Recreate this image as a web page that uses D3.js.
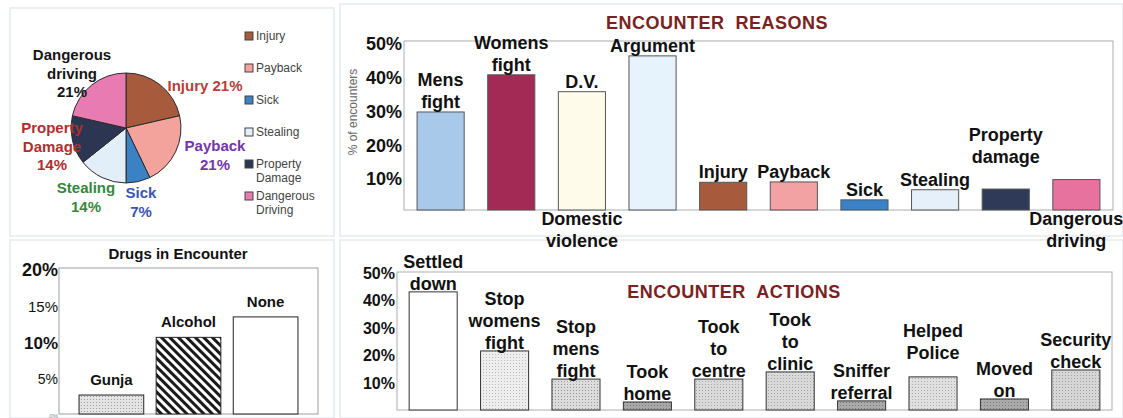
<!DOCTYPE html>
<html>
<head>
<meta charset="utf-8">
<script src="https://cdn.jsdelivr.net/npm/d3@7"></script>
<style>
  html,body{margin:0;padding:0;background:#fff;}
  svg{display:block;font-family:"Liberation Sans",Arial,sans-serif;}
</style>
</head>
<body>
<svg id="chart" width="1123" height="418"></svg>
<script>
// ---- data ----
const pieNames=['Injury','Payback','Sick','Stealing','Property Damage','Dangerous driving'];
const pieValues=[21,21,7,14,14,21];
const legendNames=['Injury','Payback','Sick','Stealing','Property\nDamage','Dangerous\nDriving'];

const reasonCategories=['Mens fight','Womens fight','D.V.','Argument','Injury','Payback','Sick','Stealing','Property damage','Dangerous driving'];
const reasonValues=[29,40,35,45.6,8.2,8.3,3,6,6.2,9];
const reasonTicks=[10,20,30,40,50];

const drugCategories=['Gunja','Alcohol','None'];
const drugValues=[2.6,10.5,13.3];
const drugTicks=[0,5,10,15,20];

const actionCategories=['Settled down','Stop womens fight','Stop mens fight','Took home','Took to centre','Took to clinic','Sniffer referral','Helped Police','Moved on','Security check'];
const actionValues=[42.8,21.4,11.2,2.9,11.2,13.8,3.3,12,4,14.5];
const actionTicks=[10,20,30,40,50];

// ---- styles ----
const PIE_COLORS=['#a85a3c','#f4a29c','#3a82c4','#e2eef8','#2c3652','#e87cb2'];
const PIE_TEXT={
  'Injury':{dx:79,dy:-43,color:'#b5403c',lines:n=>['Injury '+n+'%']},
  'Payback':{dx:89,dy:17,color:'#7436a8',lines:n=>['Payback',n+'%']},
  'Sick':{dx:15,dy:64,color:'#3c55b5',lines:n=>['Sick',n+'%']},
  'Stealing':{dx:-40,dy:59,color:'#34883e',lines:n=>['Stealing',n+'%']},
  'Property Damage':{dx:-74,dy:-1,color:'#b02e2e',lines:n=>['Property','Damage',n+'%']},
  'Dangerous driving':{dx:-54,dy:-74,color:'#151515',lines:n=>['Dangerous','driving',n+'%']}
};
const REASON_COLORS=['#a9c9ea','#a32a55','#fffbea','#e6f2fc','#a85a3c','#f2a2a2','#3a82c8','#e6f0fa','#2f3a58','#e8729e'];
const REASON_ABOVE={'Mens fight':['Mens','fight'],'Womens fight':['Womens','fight'],'D.V.':['D.V.'],'Argument':['Argument'],
  'Injury':['Injury'],'Payback':['Payback'],'Sick':['Sick'],'Stealing':['Stealing'],'Property damage':['Property','damage']};
const REASON_BELOW={'D.V.':['Domestic','violence'],'Dangerous driving':['Dangerous','driving']};
const REASON_LIFT={'Property damage':22};
const ACTION_LINES={'Settled down':['Settled','down'],'Stop womens fight':['Stop','womens','fight'],'Stop mens fight':['Stop','mens','fight'],
  'Took home':['Took','home'],'Took to centre':['Took','to','centre'],'Took to clinic':['Took','to','clinic'],'Sniffer referral':['Sniffer','referral'],
  'Helped Police':['Helped','Police'],'Moved on':['Moved','on'],'Security check':['Security','check']};
const ACTION_LIFT={'Helped Police':16};
const ACTION_FILLS=[['#ffffff',null],['#eeeeee','#b8b8b8'],['#dcdcdc','#999'],['#a9a9a9','#777'],['#dadada','#a5a5a5'],
  ['#d9d9d9','#a5a5a5'],['#aaaaaa','#777'],['#e0e0e0','#aaa'],['#aaaaaa','#777'],['#d6d6d6','#a0a0a0']];
const DRUG_TICK_SIZE={0:6,5:14,10:17,15:15,20:18};
const DRUG_TICK_WEIGHT={0:'normal',5:'normal',10:'bold',15:'normal',20:'bold'};

const svg=d3.select('#chart');
const defs=svg.append('defs');

function dotPattern(id,bg,dot){
  const p=defs.append('pattern').attr('id',id).attr('patternUnits','userSpaceOnUse').attr('width',3).attr('height',3);
  p.append('rect').attr('width',3).attr('height',3).attr('fill',bg);
  if(dot)p.append('rect').attr('width',1).attr('height',1).attr('fill',dot);
}
ACTION_FILLS.forEach((f,i)=>dotPattern('act'+i,f[0],f[1]));
dotPattern('gunja','#e4e4e4','#9a9a9a');
const stripes=defs.append('pattern').attr('id','alcohol').attr('patternUnits','userSpaceOnUse')
  .attr('width',6).attr('height',6).attr('patternTransform','rotate(-45)');
stripes.append('rect').attr('width',6).attr('height',6).attr('fill','#fff');
stripes.append('rect').attr('width',3).attr('height',6).attr('fill','#1a1a1a');

// panel outlines
const panels=[[10,8,324,228],[340,4,783,232],[10,240,324,178],[340,240,783,178]];
svg.selectAll('.panel').data(panels).enter().append('rect')
  .attr('x',d=>d[0]).attr('y',d=>d[1]).attr('width',d=>d[2]).attr('height',d=>d[3])
  .attr('fill','none').attr('stroke','#e6eaee').attr('stroke-width',1.5);

function multiline(g,lines,x,y,lh,opts){
  const t=g.append('text').attr('x',x).attr('y',y).attr('text-anchor','middle')
    .attr('fill',opts.color||'#111').style('font-size',opts.size+'px').style('font-weight','bold');
  lines.forEach((l,i)=>t.append('tspan').attr('x',x).attr('y',y+i*lh).text(l));
  return t;
}

/* ========== PIE ========== */
(function(){
  const cx=126,cy=128,r=55;
  const g=svg.append('g').attr('transform',`translate(${cx},${cy})`);
  const pie=d3.pie().value(d=>d).sort(null);
  const arc=d3.arc().innerRadius(0).outerRadius(r);
  const arcs=pie(pieValues);
  g.selectAll('.slice').data(arcs).enter().append('path')
    .attr('d',arc).attr('fill',(d,i)=>PIE_COLORS[i])
    .attr('stroke','#2a2a2a').attr('stroke-width',1);
  arcs.forEach((a,i)=>{
    const s=PIE_TEXT[pieNames[i]];
    multiline(g,s.lines(pieValues[i]),s.dx,s.dy+6,18.5,{color:s.color,size:15});
  });
  // legend
  const lg=svg.append('g').attr('transform','translate(245,36)');
  legendNames.forEach((n,i)=>{
    const y=i*32;
    lg.append('rect').attr('x',0).attr('y',y-4).attr('width',8).attr('height',8)
      .attr('fill',PIE_COLORS[i]).attr('stroke','#444').attr('stroke-width',1);
    const t=lg.append('text').attr('x',11).attr('y',y+4).attr('fill','#444').style('font-size','12px');
    n.split('\n').forEach((l,k)=>t.append('tspan').attr('x',11).attr('y',y+4+k*14).text(l));
  });
})();

function styleAxis(ax,size,weight){
  ax.select('.domain').remove();
  ax.selectAll('text').attr('fill','#111').style('font-family','"Liberation Sans",Arial,sans-serif')
    .style('font-weight',weight).style('font-size',size);
}

/* ========== ENCOUNTER REASONS ========== */
(function(){
  const L=404,R=1113,T=41,B=210;
  const x=d3.scaleBand().domain(reasonCategories).range([L,R]).paddingInner(0.333).paddingOuter(0.185);
  const y=d3.scaleLinear().domain([0,50]).range([B,T]);
  svg.append('rect').attr('x',L).attr('y',T).attr('width',R-L).attr('height',B-T)
    .attr('fill','none').attr('stroke','#a9adb2').attr('stroke-width',1);
  const ax=svg.append('g').attr('transform',`translate(${L},3)`)
    .call(d3.axisLeft(y).tickValues(reasonTicks).tickSize(0).tickPadding(2).tickFormat(d=>d+'%'));
  styleAxis(ax,'18px','bold');
  svg.append('text').attr('transform','translate(357,112) rotate(-90)').attr('text-anchor','middle')
    .attr('fill','#666').style('font-size','12px').text('% of encounters');
  svg.append('text').attr('x',717).attr('y',29).attr('text-anchor','middle').attr('fill','#7a2222')
    .style('font-size','18px').style('font-weight','bold').style('letter-spacing','0.5px')
    .attr('xml:space','preserve').text('ENCOUNTER  REASONS');
  svg.selectAll('.rbar').data(reasonCategories).enter().append('rect')
    .attr('x',d=>x(d)).attr('y',(d,i)=>y(reasonValues[i]))
    .attr('width',x.bandwidth()).attr('height',(d,i)=>B-y(reasonValues[i]))
    .attr('fill',(d,i)=>REASON_COLORS[i]).attr('stroke','#555').attr('stroke-width',1);
  reasonCategories.forEach((c,i)=>{
    const cxm=x(c)+x.bandwidth()/2;
    const above=REASON_ABOVE[c];
    if(above){
      const lastBase=y(reasonValues[i])-4-(REASON_LIFT[c]||0);
      multiline(svg,above,cxm,lastBase-(above.length-1)*22,22,{size:18});
    }
    const below=REASON_BELOW[c];
    if(below)multiline(svg,below,cxm,B+15,22,{size:18});
  });
})();

/* ========== DRUGS ========== */
(function(){
  const L=59,R=318,T=268,B=414;
  const x=d3.scaleBand().domain(drugCategories).range([L,R]).paddingInner(0.161).paddingOuter(0.26);
  const y=d3.scaleLinear().domain([0,20]).range([B,T]);
  svg.append('rect').attr('x',L).attr('y',T).attr('width',R-L).attr('height',B-T)
    .attr('fill','none').attr('stroke','#9a9ea3').attr('stroke-width',1);
  const ax=svg.append('g').attr('transform',`translate(${L},2)`)
    .call(d3.axisLeft(y).tickValues(drugTicks).tickSize(0).tickPadding(1).tickFormat(d=>d+'%'));
  styleAxis(ax,'14px','normal');
  ax.selectAll('text').style('font-size',d=>DRUG_TICK_SIZE[d]+'px').style('font-weight',d=>DRUG_TICK_WEIGHT[d])
    .attr('fill',d=>d===0?'#888':'#111');
  svg.append('text').attr('x',178).attr('y',259).attr('text-anchor','middle').attr('fill','#111')
    .style('font-size','15px').style('font-weight','bold').text('Drugs in Encounter');
  const fills=['url(#gunja)','url(#alcohol)','#fff'];
  svg.selectAll('.dbar').data(drugCategories).enter().append('rect')
    .attr('x',d=>x(d)).attr('y',(d,i)=>y(drugValues[i]))
    .attr('width',x.bandwidth()).attr('height',(d,i)=>B-y(drugValues[i]))
    .attr('fill',(d,i)=>fills[i]).attr('stroke','#222').attr('stroke-width',1);
  drugCategories.forEach((c,i)=>{
    multiline(svg,[c],x(c)+x.bandwidth()/2,y(drugValues[i])-10,18,{size:15});
  });
})();

/* ========== ENCOUNTER ACTIONS ========== */
(function(){
  const L=397,R=1112,T=272,B=410;
  const x=d3.scaleBand().domain(actionCategories).range([L,R]).paddingInner(0.327).paddingOuter(0.17);
  const y=d3.scaleLinear().domain([0,50]).range([B,T]);
  svg.append('rect').attr('x',L).attr('y',T).attr('width',R-L).attr('height',B-T)
    .attr('fill','none').attr('stroke','#a9adb2').attr('stroke-width',1);
  const ax=svg.append('g').attr('transform',`translate(${L},1)`)
    .call(d3.axisLeft(y).tickValues(actionTicks).tickSize(0).tickPadding(2).tickFormat(d=>d+'%'));
  styleAxis(ax,'16px','bold');
  svg.append('text').attr('x',734).attr('y',298).attr('text-anchor','middle').attr('fill','#7a2222')
    .style('font-size','18px').style('font-weight','bold').style('letter-spacing','0.5px')
    .attr('xml:space','preserve').text('ENCOUNTER  ACTIONS');
  svg.selectAll('.abar').data(actionCategories).enter().append('rect')
    .attr('x',d=>x(d)).attr('y',(d,i)=>y(actionValues[i]))
    .attr('width',x.bandwidth()).attr('height',(d,i)=>B-y(actionValues[i]))
    .attr('fill',(d,i)=>'url(#act'+i+')').attr('stroke','#333').attr('stroke-width',1);
  actionCategories.forEach((c,i)=>{
    const lines=ACTION_LINES[c];
    const lastBase=y(actionValues[i])-2-(ACTION_LIFT[c]||0);
    multiline(svg,lines,x(c)+x.bandwidth()/2,lastBase-(lines.length-1)*22,22,{size:18});
  });
})();
</script>
</body>
</html>
